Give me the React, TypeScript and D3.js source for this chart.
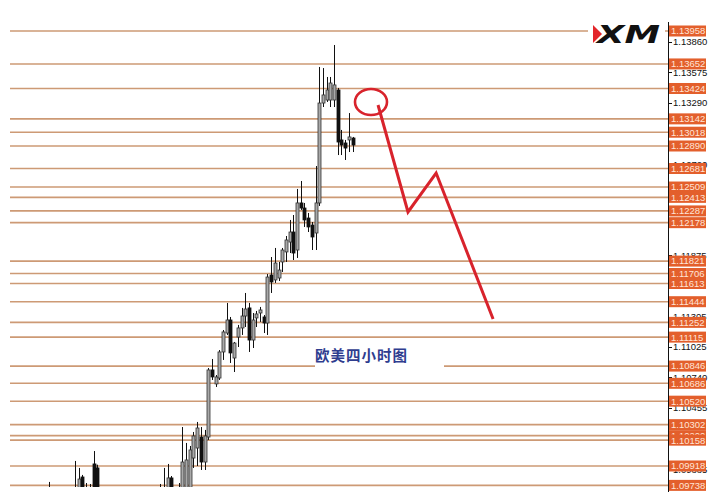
import * as d3 from "d3";
import { useEffect, useRef } from "react";

// horizontal support / resistance levels (orange)
const levels = [
  1.13958, 1.13652, 1.13424, 1.13142, 1.13018, 1.1289, 1.12681, 1.12509, 1.12413, 1.12287, 1.12178,
  1.11821, 1.11706, 1.11613, 1.11444, 1.11252, 1.11115, 1.10846, 1.10686, 1.1052, 1.10302, 1.102,
  1.10158, 1.09918, 1.09738,
];

// regular price axis ticks (black), the ones not fully covered by a level tag
const tickLabels = [1.1386, 1.13575, 1.1329, 1.1272, 1.11875, 1.11305, 1.11025, 1.1074, 1.10455, 1.09885];

// 4h candles
const opens = [
  1.0955, 1.0962, 1.0958, 1.0966, 1.0953, 1.0944, 1.0949, 1.0955, 1.096, 1.0957, 1.0964, 1.09816,
  1.0968, 1.096, 1.09937, 1.099, 1.096, 1.095, 1.0942, 1.0935, 1.0941, 1.0936, 1.0929, 1.0937,
  1.0944, 1.094, 1.0947, 1.0953, 1.0949, 1.0956, 1.0961, 1.0958, 1.0963, 1.0962, 1.0968, 1.09807,
  1.0969, 1.0963, 1.0966, 1.097, 1.0972, 1.09992, 1.10085, 1.10187, 1.09955, 1.10187, 1.1081,
  1.1068, 1.10735, 1.10977, 1.11153, 1.11274, 1.10921, 1.11116, 1.112, 1.11311, 1.11386, 1.11088,
  1.11293, 1.11339, 1.11302, 1.11246, 1.11692, 1.11646, 1.11664, 1.11813, 1.11906, 1.11998,
  1.12091, 1.11924, 1.12361, 1.12314, 1.12221, 1.12156, 1.12082, 1.12361, 1.13289, 1.13317,
  1.13317, 1.13317, 1.1341, 1.12946, 1.12918, 1.12946, 1.12964,
];
const highs = [
  1.0968, 1.097, 1.0977, 1.0971, 1.096, 1.0952, 1.0958, 1.0964, 1.0969, 1.09965, 1.099, 1.09835,
  1.0976, 1.09751, 1.10057, 1.0993, 1.0968, 1.0957, 1.095, 1.0946, 1.0949, 1.0943, 1.094, 1.0948,
  1.0953, 1.095, 1.0958, 1.0962, 1.0959, 1.0965, 1.0969, 1.0967, 1.09751, 1.099, 1.09937, 1.09825,
  1.0971, 1.0976, 1.1028, 1.10132, 1.10104, 1.10234, 1.10327, 1.1028, 1.10253, 1.10828, 1.10912,
  1.10763, 1.10995, 1.11181, 1.11432, 1.11302, 1.1107, 1.11228, 1.11386, 1.11525, 1.11432,
  1.11339, 1.11358, 1.11395, 1.1132, 1.11701, 1.11859, 1.11943, 1.11813, 1.11943, 1.12054,
  1.12203, 1.12249, 1.12491, 1.12565, 1.12361, 1.12268, 1.12184, 1.12704, 1.13624, 1.13614,
  1.13531, 1.13531, 1.13828, 1.13429, 1.13039, 1.12946, 1.13196, 1.12974,
];
const lows = [
  1.0948, 1.0955, 1.0952, 1.095, 1.094, 1.0936, 1.0943, 1.0948, 1.0952, 1.095, 1.0958, 1.096,
  1.0955, 1.0952, 1.0955, 1.0952, 1.0945, 1.0938, 1.093, 1.0928, 1.0932, 1.0925, 1.0922, 1.0931,
  1.0938, 1.0933, 1.0941, 1.0945, 1.0942, 1.095, 1.0953, 1.0951, 1.0956, 1.0955, 1.0962, 1.0962,
  1.0958, 1.0956, 1.096, 1.0962, 1.0967, 1.099, 1.09918, 1.09881, 1.09881, 1.1016, 1.10717,
  1.10652, 1.10717, 1.10903, 1.11135, 1.10875, 1.10791, 1.11023, 1.11135, 1.11209, 1.10977,
  1.11014, 1.11209, 1.11256, 1.11153, 1.11135, 1.11525, 1.11618, 1.11636, 1.1172, 1.11813,
  1.11896, 1.11831, 1.1185, 1.12296, 1.12138, 1.12091, 1.11924, 1.11924, 1.12333, 1.13252,
  1.13299, 1.13252, 1.13252, 1.12806, 1.12806, 1.1276, 1.12834, 1.12834,
];
const closes = [
  1.0962, 1.0958, 1.0966, 1.0953, 1.0944, 1.0949, 1.0955, 1.096, 1.0957, 1.0964, 1.09797, 1.0968,
  1.096, 1.0969, 1.0962, 1.096, 1.095, 1.0942, 1.0935, 1.0941, 1.0936, 1.0929, 1.0937, 1.0944,
  1.094, 1.0947, 1.0953, 1.0949, 1.0956, 1.0961, 1.0958, 1.0963, 1.0968, 1.0969, 1.09807, 1.0969,
  1.0963, 1.097, 1.09955, 1.09974, 1.10067, 1.10197, 1.10271, 1.09955, 1.10197, 1.1081, 1.10745,
  1.10745, 1.10977, 1.11163, 1.11274, 1.10968, 1.1106, 1.112, 1.11311, 1.11376, 1.11088, 1.11274,
  1.1133, 1.11367, 1.11246, 1.11673, 1.11627, 1.11803, 1.11738, 1.11924, 1.12017, 1.12091,
  1.11896, 1.12361, 1.12314, 1.12203, 1.12138, 1.12045, 1.12361, 1.13289, 1.13364, 1.1341,
  1.13475, 1.13457, 1.12927, 1.12899, 1.12871, 1.12974, 1.12899,
];

// hand drawn forecast (bar position, price)
const arrowBars = [90.9, 99.0, 106.6, 122.0];
const arrowPrices = [1.13271, 1.12277, 1.12639, 1.11283];
const circleBar = 89.0;
const circlePrice = 1.13299;

const title = "欧美四小时图";

const W = 728;
const H = 499;
const axisX = 668;
const plotLeft = 10;
const plotBottom = 487;

export default function App() {
  const svgRef = useRef<SVGSVGElement>(null);

  useEffect(() => {
    if (svgRef.current) drawChart();
  }, []);

  const drawChart = () => {
    const svg = d3.select(svgRef.current);
    svg.selectAll("*").remove();

    const x = d3.scaleLinear().domain([0, 84]).range([41.7, 352.5]);
    const y = d3.scaleLinear().domain([1.09918, 1.13958]).range([466, 31]);

    svg.append("rect").attr("width", W).attr("height", H).attr("fill", "#fff");

    const defs = svg.append("defs");
    defs
      .append("clipPath")
      .attr("id", "plot")
      .append("rect")
      .attr("x", 0)
      .attr("y", 18)
      .attr("width", axisX)
      .attr("height", plotBottom - 18);
    defs
      .append("clipPath")
      .attr("id", "scale")
      .append("rect")
      .attr("x", axisX)
      .attr("y", 18)
      .attr("width", W - axisX)
      .attr("height", 491 - 18);

    const plot = svg.append("g").attr("clip-path", "url(#plot)");

    // level lines
    plot
      .selectAll("line.level")
      .data(levels)
      .join("line")
      .attr("class", "level")
      .attr("x1", plotLeft)
      .attr("x2", axisX)
      .attr("y1", (d) => y(d))
      .attr("y2", (d) => y(d))
      .attr("stroke", "#cd9a75")
      .attr("stroke-width", 1.6);

    // candles
    const bars = d3.range(opens.length);
    const candle = plot.selectAll("g.candle").data(bars).join("g").attr("class", "candle");
    candle
      .append("line")
      .attr("x1", (i) => Math.round(x(i)) + 0.5)
      .attr("x2", (i) => Math.round(x(i)) + 0.5)
      .attr("y1", (i) => y(highs[i]))
      .attr("y2", (i) => y(lows[i]))
      .attr("stroke", "#111")
      .attr("stroke-width", 1);
    candle
      .append("rect")
      .attr("x", (i) => Math.round(x(i)) - 1)
      .attr("width", 3)
      .attr("y", (i) => y(Math.max(opens[i], closes[i])))
      .attr("height", (i) => Math.max(1, Math.abs(y(opens[i]) - y(closes[i]))))
      .attr("fill", (i) => (closes[i] >= opens[i] ? "#a9a9a9" : "#111"))
      .attr("stroke", (i) => (closes[i] >= opens[i] ? "#333" : "#111"))
      .attr("stroke-width", 0.8);

    // title box
    svg.append("rect").attr("x", 315).attr("y", 343).attr("width", 129).attr("height", 29).attr("fill", "#fff");
    svg
      .append("text")
      .attr("x", 315)
      .attr("y", 361)
      .attr("font-family", "'Noto Sans CJK SC', sans-serif")
      .attr("font-size", 14.5)
      .attr("font-weight", 700)
      .attr("letter-spacing", 1)
      .attr("fill", "#2f3d8f")
      .text(title);

    // forecast path
    const line = d3
      .line<number>()
      .x((i) => x(arrowBars[i]))
      .y((i) => y(arrowPrices[i]));
    svg
      .append("path")
      .attr("d", line(d3.range(arrowBars.length)))
      .attr("fill", "none")
      .attr("stroke", "#d8232c")
      .attr("stroke-width", 3)
      .attr("stroke-linejoin", "miter");
    svg
      .append("ellipse")
      .attr("cx", x(circleBar))
      .attr("cy", y(circlePrice))
      .attr("rx", 16)
      .attr("ry", 13)
      .attr("fill", "none")
      .attr("stroke", "#d8232c")
      .attr("stroke-width", 2.6);

    // XM logo
    const logo = svg.append("g");
    logo.append("rect").attr("x", 588).attr("y", 19).attr("width", 77).attr("height", 40).attr("fill", "#fff");
    logo.append("polygon").attr("points", "593,25 602,34 593,43").attr("fill", "#e3262b");
    logo
      .append("text")
      .attr("x", 597)
      .attr("y", 43)
      .attr("font-family", "'DejaVu Sans', sans-serif")
      .attr("font-size", 25)
      .attr("font-weight", 900)
      .attr("font-style", "italic")
      .attr("textLength", 63)
      .attr("lengthAdjust", "spacingAndGlyphs")
      .attr("fill", "#111")
      .text("XM");

    // price axis
    svg
      .append("line")
      .attr("x1", axisX + 0.5)
      .attr("x2", axisX + 0.5)
      .attr("y1", 22)
      .attr("y2", 492)
      .attr("stroke", "#111");

    const fmt = d3.format(".5f");
    const scale = svg.append("g").attr("clip-path", "url(#scale)");
    const ticks = scale.append("g");
    ticks
      .selectAll("line")
      .data(tickLabels)
      .join("line")
      .attr("x1", axisX)
      .attr("x2", axisX + 4)
      .attr("y1", (d) => Math.round(y(d)) + 0.5)
      .attr("y2", (d) => Math.round(y(d)) + 0.5)
      .attr("stroke", "#111");
    ticks
      .selectAll("text")
      .data(tickLabels)
      .join("text")
      .attr("x", axisX + 5)
      .attr("y", (d) => y(d) + 3.3)
      .attr("font-family", "'Liberation Sans', Arial, sans-serif")
      .attr("font-size", 9.5)
      .attr("fill", "#111")
      .text((d) => fmt(d));

    const tags = scale.selectAll("g.tag").data(levels).join("g").attr("class", "tag");
    tags
      .append("rect")
      .attr("x", axisX + 1)
      .attr("y", (d) => y(d) - 5.5)
      .attr("width", 37)
      .attr("height", 11)
      .attr("fill", "#e35f2c");
    tags
      .append("text")
      .attr("x", axisX + 3)
      .attr("y", (d) => y(d) + 3.4)
      .attr("font-family", "'Liberation Sans', Arial, sans-serif")
      .attr("font-size", 9.5)
      .attr("fill", "#ffe4d6")
      .text((d) => fmt(d));
  };

  return (
    <svg
      ref={svgRef}
      width={W}
      height={H}
      style={{ position: "absolute", left: 0, top: 0, display: "block" }}
    />
  );
}
